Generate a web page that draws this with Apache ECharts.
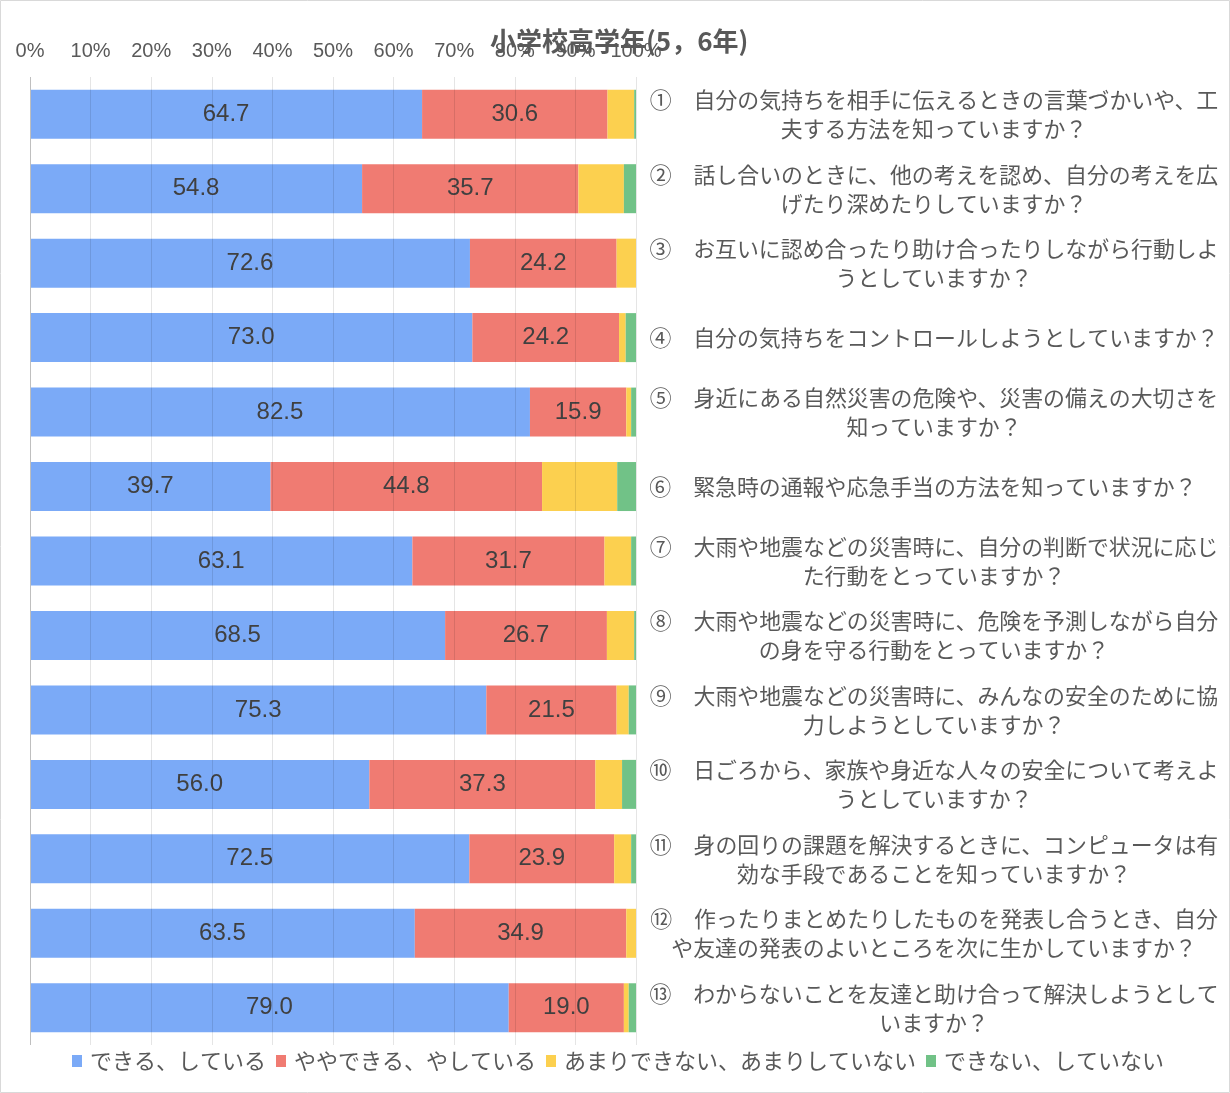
<!DOCTYPE html>
<html><head><meta charset="utf-8">
<script src="https://cdn.jsdelivr.net/npm/echarts@6/dist/echarts.min.js"></script>
<style>html,body{margin:0;padding:0;background:#fff}#c{width:1230px;height:1093px}</style>
</head><body><div id="c"></div>
<script>
const categories = [
  "①　自分の気持ちを相手に伝えるときの言葉づかいや、工\n夫する方法を知っていますか？",
  "②　話し合いのときに、他の考えを認め、自分の考えを広\nげたり深めたりしていますか？",
  "③　お互いに認め合ったり助け合ったりしながら行動しよ\nうとしていますか？",
  "④　自分の気持ちをコントロールしようとしていますか？",
  "⑤　身近にある自然災害の危険や、災害の備えの大切さを\n知っていますか？",
  "⑥　緊急時の通報や応急手当の方法を知っていますか？",
  "⑦　大雨や地震などの災害時に、自分の判断で状況に応じ\nた行動をとっていますか？",
  "⑧　大雨や地震などの災害時に、危険を予測しながら自分\nの身を守る行動をとっていますか？",
  "⑨　大雨や地震などの災害時に、みんなの安全のために協\n力しようとしていますか？",
  "⑩　日ごろから、家族や身近な人々の安全について考えよ\nうとしていますか？",
  "⑪　身の回りの課題を解決するときに、コンピュータは有\n効な手段であることを知っていますか？",
  "⑫　作ったりまとめたりしたものを発表し合うとき、自分\nや友達の発表のよいところを次に生かしていますか？",
  "⑬　わからないことを友達と助け合って解決しようとして\nいますか？"
];
const seriesNames = ["できる、している", "ややできる、やしている", "あまりできない、あまりしていない", "できない、していない"];
const canDo      = [64.7, 54.8, 72.6, 73.0, 82.5, 39.7, 63.1, 68.5, 75.3, 56.0, 72.5, 63.5, 79.0];
const somewhat   = [30.6, 35.7, 24.2, 24.2, 15.9, 44.8, 31.7, 26.7, 21.5, 37.3, 23.9, 34.9, 19.0];
const notMuch    = [4.4, 7.5, 3.2, 1.1, 0.8, 12.4, 4.4, 4.5, 2.0, 4.4, 2.8, 1.6, 0.8];
const cannot     = [0.3, 2.0, 0.0, 1.7, 0.8, 3.1, 0.8, 0.3, 1.2, 2.3, 0.8, 0.0, 1.2];
const tickValues = [0, 10, 20, 30, 40, 50, 60, 70, 80, 90, 100];
const titleText = "小学校高学年(5，6年)";

const colors = ["#7baaf7", "#f07b72", "#fcd04f", "#71c287"];
const dataSets = [canDo, somewhat, notMuch, cannot];
const jp = "'Noto Sans CJK JP','Noto Sans CJK SC',sans-serif";

const chart = echarts.init(document.getElementById('c'));
const gridColors = tickValues.map((v, i) => i === 0 ? '#bfbfbf' : 'rgba(0,0,0,0.10)');

chart.setOption({
  animation: false,
  color: colors,
  graphic: [{type: 'rect', shape: {x: 0.5, y: 0.5, width: 1229, height: 1092}, style: {fill: 'none', stroke: '#d9d9d9', lineWidth: 1}, z: -10}],
  title: {
    text: titleText, left: 485, top: 23,
    textStyle: {fontFamily: jp, fontSize: 26, fontWeight: 'bold', color: '#595959'}
  },
  legend: {
    bottom: 16, left: 67, itemWidth: 10, itemHeight: 12, itemGap: 10, icon: 'rect',
    data: seriesNames,
    textStyle: {fontFamily: jp, fontSize: 22, color: '#595959', padding: [0, 0, 0, 3]}
  },
  grid: {left: 30, right: 594, top: 77, bottom: 48, containLabel: false},
  xAxis: {
    type: 'value', position: 'top', min: 0, max: 100, interval: 10, z: 5,
    axisLine: {show: false}, axisTick: {show: false},
    axisLabel: {formatter: '{value}%', fontFamily: "'Liberation Sans',Arial,sans-serif", fontSize: 20, color: '#595959', margin: 16},
    splitLine: {show: true, lineStyle: {color: gridColors, width: 1}}
  },
  yAxis: {
    type: 'category', data: categories, inverse: true, position: 'right',
    axisLine: {show: false}, axisTick: {show: false},
    axisLabel: {
      align: 'center', margin: 298, fontFamily: jp, fontSize: 21.9, lineHeight: 29, color: '#595959',
      formatter: (v, i) => i === 5 ? '{pad|' + v + '}' : v,
      rich: {pad: {fontFamily: jp, fontSize: 21.9, color: '#595959', padding: [0, 22, 0, 0]}}
    }
  },
  series: dataSets.map((d, i) => ({
    name: seriesNames[i], type: 'bar', stack: 'total', barWidth: 49, data: d,
    label: {
      show: i < 2, position: 'inside',
      formatter: p => p.value.toFixed(1),
      fontFamily: "'Liberation Sans',Arial,sans-serif", fontSize: 24, color: '#404040'
    }
  }))
});
</script></body></html>
